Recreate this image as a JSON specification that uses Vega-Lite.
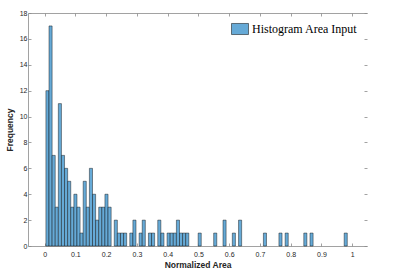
{
  "$schema": "https://vega.github.io/schema/vega-lite/v6.json",
  "width": 339,
  "height": 233,
  "autosize": {"type": "none"},
  "padding": {"left": 28, "top": 13, "right": 48, "bottom": 27},
  "background": "white",
  "data": {"values": [
    {"x0": 0.0042, "x1": 0.0143, "count": 12},
    {"x0": 0.0143, "x1": 0.0244, "count": 17},
    {"x0": 0.0244, "x1": 0.0345, "count": 7},
    {"x0": 0.0345, "x1": 0.0446, "count": 3},
    {"x0": 0.0446, "x1": 0.0547, "count": 11},
    {"x0": 0.0547, "x1": 0.0648, "count": 7},
    {"x0": 0.0648, "x1": 0.0749, "count": 6},
    {"x0": 0.0749, "x1": 0.0850, "count": 5},
    {"x0": 0.0850, "x1": 0.0951, "count": 3},
    {"x0": 0.0951, "x1": 0.1052, "count": 4},
    {"x0": 0.1052, "x1": 0.1153, "count": 3},
    {"x0": 0.1153, "x1": 0.1254, "count": 1},
    {"x0": 0.1254, "x1": 0.1355, "count": 5},
    {"x0": 0.1355, "x1": 0.1456, "count": 3},
    {"x0": 0.1456, "x1": 0.1557, "count": 6},
    {"x0": 0.1557, "x1": 0.1658, "count": 4},
    {"x0": 0.1658, "x1": 0.1759, "count": 2},
    {"x0": 0.1759, "x1": 0.1860, "count": 3},
    {"x0": 0.1860, "x1": 0.1961, "count": 3},
    {"x0": 0.1961, "x1": 0.2062, "count": 4},
    {"x0": 0.2062, "x1": 0.2163, "count": 3},
    {"x0": 0.2264, "x1": 0.2365, "count": 2},
    {"x0": 0.2365, "x1": 0.2466, "count": 1},
    {"x0": 0.2466, "x1": 0.2567, "count": 1},
    {"x0": 0.2567, "x1": 0.2668, "count": 1},
    {"x0": 0.2769, "x1": 0.2870, "count": 1},
    {"x0": 0.2870, "x1": 0.2971, "count": 2},
    {"x0": 0.3072, "x1": 0.3173, "count": 1},
    {"x0": 0.3173, "x1": 0.3274, "count": 2},
    {"x0": 0.3375, "x1": 0.3476, "count": 1},
    {"x0": 0.3476, "x1": 0.3577, "count": 1},
    {"x0": 0.3678, "x1": 0.3779, "count": 2},
    {"x0": 0.3779, "x1": 0.3880, "count": 1},
    {"x0": 0.3981, "x1": 0.4082, "count": 1},
    {"x0": 0.4082, "x1": 0.4183, "count": 1},
    {"x0": 0.4183, "x1": 0.4284, "count": 1},
    {"x0": 0.4284, "x1": 0.4385, "count": 2},
    {"x0": 0.4385, "x1": 0.4486, "count": 1},
    {"x0": 0.4486, "x1": 0.4587, "count": 1},
    {"x0": 0.4587, "x1": 0.4688, "count": 1},
    {"x0": 0.4991, "x1": 0.5092, "count": 1},
    {"x0": 0.5496, "x1": 0.5597, "count": 1},
    {"x0": 0.5799, "x1": 0.5900, "count": 2},
    {"x0": 0.6102, "x1": 0.6203, "count": 1},
    {"x0": 0.6304, "x1": 0.6405, "count": 2},
    {"x0": 0.7112, "x1": 0.7213, "count": 1},
    {"x0": 0.7617, "x1": 0.7718, "count": 1},
    {"x0": 0.7819, "x1": 0.7920, "count": 1},
    {"x0": 0.8425, "x1": 0.8526, "count": 1},
    {"x0": 0.8627, "x1": 0.8728, "count": 1},
    {"x0": 0.9738, "x1": 0.9839, "count": 1}
  ]},
  "layer": [
    {
      "mark": {"type": "bar", "stroke": "#000000", "strokeWidth": 0.5, "strokeOpacity": 0.85},
      "encoding": {
        "x": {
          "field": "x0", "type": "quantitative",
          "scale": {"domain": [-0.054, 1.048], "nice": false, "zero": false},
          "axis": {"orient": "bottom", "values": [0, 0.1, 0.2, 0.3, 0.4, 0.5, 0.6, 0.7, 0.8, 0.9, 1], "format": ".1~f", "title": "Normalized Area", "labelPadding": 7, "titlePadding": 3}
        },
        "x2": {"field": "x1"},
        "y": {
          "field": "count", "type": "quantitative",
          "scale": {"domain": [0, 18], "nice": false},
          "axis": {"orient": "left", "values": [0, 2, 4, 6, 8, 10, 12, 14, 16, 18], "title": "Frequency", "labelPadding": 4, "titlePadding": 5}
        },
        "y2": {"datum": 0},
        "fill": {
          "datum": "Histogram Area Input", "type": "nominal",
          "scale": {"range": ["#66AAD7"]},
          "legend": {
            "orient": "none", "legendX": 203, "legendY": 7, "title": null, "padding": 0,
            "symbolType": "M-1,-0.65L1,-0.65L1,0.65L-1,0.65Z", "symbolSize": 289,
            "symbolStrokeColor": "#000000", "symbolStrokeWidth": 0.5, "symbolOpacity": 1,
            "labelFont": "Liberation Serif", "labelFontSize": 12, "labelColor": "#000000", "labelOffset": 3
          }
        }
      }
    },
    {
      "mark": {"type": "bar", "opacity": 0},
      "encoding": {
        "x": {"field": "x0", "type": "quantitative", "axis": {"orient": "top", "values": [0, 0.1, 0.2, 0.3, 0.4, 0.5, 0.6, 0.7, 0.8, 0.9, 1], "labels": false, "title": null}},
        "x2": {"field": "x1"},
        "y": {"field": "count", "type": "quantitative", "axis": {"orient": "right", "values": [0, 2, 4, 6, 8, 10, 12, 14, 16, 18], "labels": false, "title": null, "domain": false}},
        "y2": {"datum": 0}
      }
    }
  ],
  "resolve": {"axis": {"x": "independent", "y": "independent"}},
  "config": {
    "view": {"stroke": null},
    "axis": {
      "grid": false,
      "domainColor": "#8a8a8a", "domainWidth": 0.8,
      "tickColor": "#8a8a8a", "tickWidth": 0.8, "tickSize": -3,
      "labelFont": "Liberation Sans", "labelFontSize": 7, "labelColor": "#262626",
      "titleFont": "Liberation Sans", "titleFontSize": 8.5, "titleFontWeight": "bold", "titleColor": "#262626"
    }
  }
}
